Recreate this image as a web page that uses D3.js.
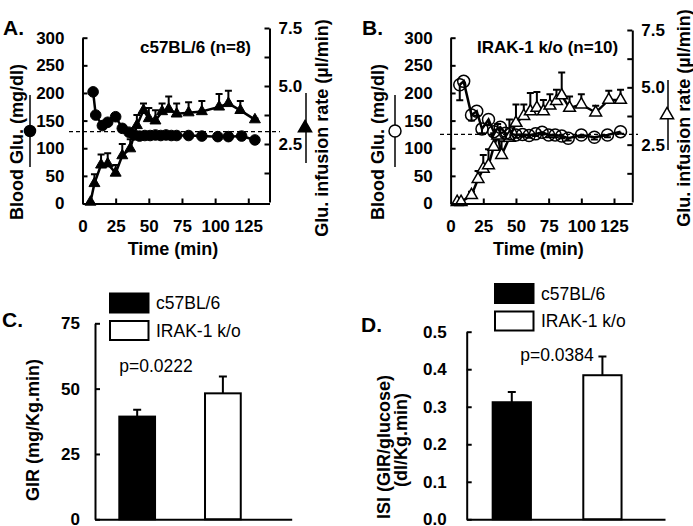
<!DOCTYPE html>
<html><head><meta charset="utf-8">
<script src="https://cdn.jsdelivr.net/npm/d3@7"></script>
<style>
body{margin:0;background:#fff}
svg{font-family:"Liberation Sans",Arial,Helvetica,sans-serif}
</style></head><body>
<svg id="c" width="693" height="526"></svg>
<script>
// ---------- data ----------
const timeTicks = [0, 25, 50, 75, 100, 125];
const bgTicks = [0, 50, 100, 150, 200, 250, 300];
const girTicksAll = [1.25, 2.5, 3.75, 5, 6.25, 7.5];
const girTicksLabeled = [2.5, 5, 7.5];

// Panel A: c57BL/6 (n=8)
const wtBgTime = [8, 10, 15, 19, 25, 30, 35, 39, 43, 47, 51, 55, 59, 63, 67, 71, 80, 90, 102, 110, 120, 130];
const wtBg     = [202, 160, 141, 147, 157, 136, 129, 124, 122, 123, 123, 124, 123, 124, 123, 123, 123, 122, 121, 121, 122, 115];
const wtGirTime = [6, 9, 14, 19, 25, 30, 36, 41, 46, 50, 55, 60, 65, 71, 80, 90, 103, 110, 119, 130];
const wtGir     = [0, 0.8, 1.6, 1.65, 1.25, 2.0, 2.3, 3.3, 3.95, 3.6, 3.5, 3.9, 4.0, 3.8, 3.85, 3.9, 4.1, 4.25, 3.95, 3.55];
const wtGirErr  = [0, 0.4, 0.45, 0.45, 0.35, 0.5, 0.4, 0.45, 0.3, 0.45, 0.45, 0.35, 0.55, 0.45, 0.45, 0.45, 0.55, 0.55, 0.4, 0.05];
const wtTarget = 130;

// Panel B: IRAK-1 k/o (n=10)
const koBgTime = [7, 10, 16, 20, 24, 29, 33, 38, 42, 46, 50, 55, 60, 65, 70, 75, 80, 85, 90, 100, 110, 120, 130];
const koBg     = [215, 221, 160, 167, 135, 152, 130, 138, 127, 126, 124, 125, 123, 126, 129, 124, 124, 122, 118, 124, 120, 124, 130];
const koBgErr  = [28, 0, 10, 8, 8, 10, 8, 10, 6, 5, 5, 4, 4, 4, 4, 4, 4, 4, 4, 4, 4, 4, 4];
const koGirTime = [5, 8, 16, 21, 25, 29, 33, 36, 39, 45, 50, 56, 61, 66, 71, 76, 81, 85, 91, 100, 111, 121, 130];
const koGir     = [0, 0, 0.3, 1.0, 1.45, 1.6, 2.4, 2.9, 2.05, 2.8, 3.45, 3.75, 3.95, 4.1, 3.95, 4.2, 4.4, 4.65, 4.1, 4.25, 3.9, 4.45, 4.45];
const koGirErr  = [0, 0, 0.15, 0.35, 0.6, 0.7, 0.6, 0.5, 0.6, 0.8, 0.8, 0.5, 0.8, 0.7, 0.5, 0.5, 0.5, 1.0, 0.5, 0.45, 0.3, 0.4, 0.45];
const koTarget = 125;

// Panels C, D
const groups = ["c57BL/6", "IRAK-1 k/o"];
const girMean = [39.3, 48.2];
const girErr  = [2.6, 6.4];
const isiMean = [0.312, 0.384];
const isiErr  = [0.027, 0.05];
const girBarTicks = [0, 25, 50, 75];
const isiTicks = [0, 0.1, 0.2, 0.3, 0.4, 0.5];
const pGir = "p=0.0222";
const pIsi = "p=0.0384";

// ---------- drawing ----------
const svg = d3.select("#c");
const FONT = "'Liberation Sans',Arial,sans-serif";

function styleAxis(g, size) {
  g.attr("font-family", FONT).attr("font-size", size || 17).attr("font-weight", "bold");
  g.selectAll("path.domain").attr("stroke", "#000").attr("stroke-width", 2);
  g.selectAll(".tick line").attr("stroke", "#000").attr("stroke-width", 2);
  g.selectAll(".tick text").attr("fill", "#000");
}

function rotLabel(cx, cy, txt, size) {
  svg.append("text")
    .attr("transform", `translate(${cx},${cy}) rotate(-90)`)
    .attr("text-anchor", "middle").attr("dy", "0.35em")
    .attr("font-size", size || 18).attr("font-weight", "bold")
    .text(txt);
}

function linePanel(c) {
  const x = d3.scaleLinear().domain([0, c.xMax]).range([c.x0, c.x1]);
  const y = d3.scaleLinear().domain([0, 300]).range([203.5, 37.7]);
  const r = d3.scaleLinear().domain([0, 7.5]).range([202, c.rTop]);
  const g = svg.append("g");

  // target dashed line
  g.append("line")
    .attr("x1", c.dashL).attr("x2", c.dashR)
    .attr("y1", y(c.target)).attr("y2", y(c.target))
    .attr("stroke", "#000").attr("stroke-width", 1.3).attr("stroke-dasharray", "4,3");

  // GIR (triangles) line + error bars
  const gir = c.girT.map((t, i) => ({ t, v: c.gir[i], e: c.girE[i] }));
  const bg = c.bgT.map((t, i) => ({ t, v: c.bg[i], e: c.bgE ? c.bgE[i] : 0 }));

  g.selectAll(".ge").data(gir).enter().append("path")
    .attr("d", d => {
      const px = x(d.t), y1 = r(d.v), y2 = r(d.v + d.e);
      return `M${px},${y1}V${y2}M${px - 3.5},${y2}H${px + 3.5}`;
    })
    .attr("stroke", "#000").attr("stroke-width", 2).attr("fill", "none");

  g.selectAll(".be").data(bg.filter(d => d.e > 0)).enter().append("path")
    .attr("d", d => {
      const px = x(d.t), y1 = y(d.v), y2 = y(d.v - d.e);
      return `M${px},${y1}V${y2}M${px - 3.5},${y2}H${px + 3.5}`;
    })
    .attr("stroke", "#000").attr("stroke-width", 2).attr("fill", "none");

  g.append("path").datum(gir)
    .attr("d", d3.line().x(d => x(d.t)).y(d => r(d.v)))
    .attr("fill", "none").attr("stroke", "#000").attr("stroke-width", 2.5);
  g.append("path").datum(bg)
    .attr("d", d3.line().x(d => x(d.t)).y(d => y(d.v)))
    .attr("fill", "none").attr("stroke", "#000").attr("stroke-width", 2.5);

  const tri = d3.symbol().type(d3.symbolTriangle).size(c.filled ? 52 : 60);
  g.selectAll(".tri").data(gir).enter().append("path")
    .attr("d", tri)
    .attr("transform", d => `translate(${x(d.t)},${r(d.v)})`)
    .attr("fill", c.filled ? "#000" : "#fff")
    .attr("stroke", "#000").attr("stroke-width", c.filled ? 1 : 1.5);

  g.selectAll(".cir").data(bg).enter().append("circle")
    .attr("cx", d => x(d.t)).attr("cy", d => y(d.v))
    .attr("r", c.filled ? 5.3 : 6)
    .attr("fill", c.filled ? "#000" : "none")
    .attr("stroke", "#000").attr("stroke-width", c.filled ? 1 : 1.5);

  // axes
  const gl = g.append("g").attr("transform", `translate(${c.x0},0)`)
    .call(d3.axisLeft(y).tickValues(bgTicks).tickSize(-5).tickSizeOuter(0).tickPadding(18));
  styleAxis(gl);
  const gr = g.append("g").attr("transform", `translate(${c.x1},0)`)
    .call(d3.axisRight(r).tickValues(girTicksAll).tickSize(-5).tickSizeOuter(0).tickPadding(9)
      .tickFormat(d => girTicksLabeled.includes(d) ? d.toFixed(1) : ""));
  styleAxis(gr);
  const gb = g.append("g").attr("transform", `translate(0,203.5)`)
    .call(d3.axisBottom(x).tickValues(timeTicks).tickSize(-5).tickSizeOuter(0).tickPadding(16));
  styleAxis(gb);
  gb.selectAll(".tick").filter(d => d === 0).select("line").remove();

  // texts
  g.append("text").attr("x", (c.x0 + c.x1) / 2 - 3).attr("y", 255)
    .attr("text-anchor", "middle").attr("font-size", 18).attr("font-weight", "bold").text("Time (min)");
  g.append("text").attr("x", c.titleX).attr("y", 53)
    .attr("font-size", 17).attr("font-weight", "bold").text(c.title);
  g.append("text").attr("x", c.letterX).attr("y", 35)
    .attr("font-size", 21).attr("font-weight", "bold").text(c.letter);
  rotLabel(c.lLabX, 142, "Blood Glu. (mg/dl)");
  rotLabel(c.rLabX, c.rLabY, "Glu. infusion rate (\u00b5l/min)");

  // axis symbol keys
  g.append("line").attr("x1", c.keyLX).attr("x2", c.keyLX).attr("y1", 95).attr("y2", 167)
    .attr("stroke", "#000").attr("stroke-width", 1.5);
  g.append("circle").attr("cx", c.keyLX).attr("cy", 131).attr("r", c.filled ? 5.5 : 6)
    .attr("fill", c.filled ? "#000" : "#fff").attr("stroke", "#000").attr("stroke-width", 1.5);
  g.append("line").attr("x1", c.keyRX).attr("x2", c.keyRX).attr("y1", c.keyRY - 35).attr("y2", c.keyRY + 35)
    .attr("stroke", "#000").attr("stroke-width", 1.5);
  g.append("path").attr("d", d3.symbol().type(d3.symbolTriangle).size(75))
    .attr("transform", `translate(${c.keyRX - 1},${c.keyRY})`)
    .attr("fill", c.filled ? "#000" : "#fff").attr("stroke", "#000").attr("stroke-width", 1.5);
}

linePanel({
  x0: 82.5, x1: 269.5, xMax: 141, rTop: 28, target: wtTarget, dashL: 69, dashR: 280,
  bgT: wtBgTime, bg: wtBg, girT: wtGirTime, gir: wtGir, girE: wtGirErr, filled: true,
  title: "c57BL/6 (n=8)", titleX: 140, letter: "A.", letterX: 3,
  lLabX: 17, rLabX: 322, rLabY: 128, keyLX: 30, keyRX: 306, keyRY: 128
});
linePanel({
  x0: 450.6, x1: 632.3, xMax: 139, rTop: 30, target: koTarget, dashL: 440, dashR: 638,
  bgT: koBgTime, bg: koBg, bgE: koBgErr, girT: koGirTime, gir: koGir, girE: koGirErr, filled: false,
  title: "IRAK-1 k/o (n=10)", titleX: 477, letter: "B.", letterX: 362,
  lLabX: 378, rLabX: 684, rLabY: 118, keyLX: 395, keyRX: 668, keyRY: 115
});

function barPanel(c) {
  const x = d3.scaleBand().domain(groups).range([c.x0, c.x1])
    .paddingInner(c.pi).paddingOuter(c.po).align(c.al);
  const y = d3.scaleLinear().domain([0, c.yMax]).range([519.3, c.yTop]);
  const g = svg.append("g");
  const data = groups.map((k, i) => ({ k, v: c.mean[i], e: c.err[i], i }));

  g.selectAll(".eb").data(data).enter().append("path")
    .attr("d", d => {
      const px = x(d.k) + x.bandwidth() / 2, y1 = y(d.v), y2 = y(d.v + d.e);
      return `M${px},${y1}V${y2}M${px - 4},${y2}H${px + 4}`;
    })
    .attr("stroke", "#000").attr("stroke-width", 2).attr("fill", "none");
  g.selectAll(".bar").data(data).enter().append("rect")
    .attr("x", d => x(d.k)).attr("width", x.bandwidth())
    .attr("y", d => y(d.v)).attr("height", d => y(0) - y(d.v))
    .attr("fill", d => d.i === 0 ? "#000" : "#fff")
    .attr("stroke", "#000").attr("stroke-width", 2);

  const gl = g.append("g").attr("transform", `translate(${c.x0},0)`)
    .call(d3.axisLeft(y).tickValues(c.ticks).tickSize(-5).tickSizeOuter(0).tickPadding(c.tp)
      .tickFormat(c.fmt));
  styleAxis(gl);
  const gb = g.append("g").attr("transform", `translate(0,${y(0)})`)
    .call(d3.axisBottom(x).tickSize(0).tickSizeOuter(0).tickFormat(""));
  styleAxis(gb);

  // legend
  data.forEach((d, i) => {
    g.append("rect").attr("x", c.legX).attr("y", c.legY + i * 27.5)
      .attr("width", 38.5).attr("height", 19)
      .attr("fill", i === 0 ? "#000" : "#fff").attr("stroke", "#000").attr("stroke-width", 2);
    g.append("text").attr("x", c.legX + 46).attr("y", c.legY + i * 27.5 + 9.5)
      .attr("dy", "0.35em").attr("font-size", 17.5).text(d.k);
  });
  g.append("text").attr("x", c.pX).attr("y", c.pY).attr("text-anchor", "middle")
    .attr("font-size", 17.5).text(c.p);
  g.append("text").attr("x", c.letterX).attr("y", c.letterY)
    .attr("font-size", 21).attr("font-weight", "bold").text(c.letter);
}

barPanel({
  x0: 95, x1: 291.7, pi: 0.583, po: 0.439, al: 0.323, yMax: 75, yTop: 323.3,
  mean: girMean, err: girErr, ticks: girBarTicks, tp: 15, fmt: d3.format("d"),
  legX: 110, legY: 293.5, p: pGir, pX: 156, pY: 372, letter: "C.", letterX: 2, letterY: 327
});
barPanel({
  x0: 466.7, x1: 665, pi: 0.578, po: 0.383, al: 0.374, yMax: 0.5, yTop: 331.7,
  mean: isiMean, err: isiErr, ticks: isiTicks, tp: 20, fmt: d3.format(".1f"),
  legX: 495, legY: 284, p: pIsi, pX: 557, pY: 361, letter: "D.", letterX: 361, letterY: 332
});
rotLabel(33, 430, "GIR (mg/Kg.min)");
rotLabel(384, 447, "ISI (GIR/glucose)");
rotLabel(401, 440, "(dl/Kg.min)");
</script>
</body></html>
